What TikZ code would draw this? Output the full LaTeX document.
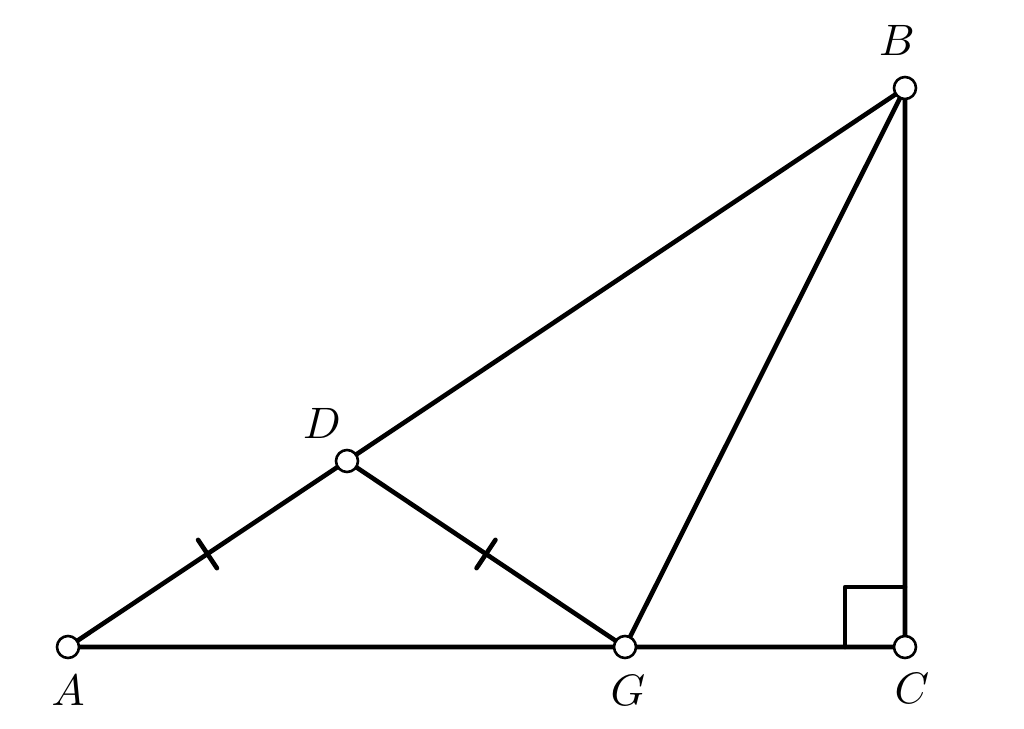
\documentclass[tikz,border=0pt]{standalone}
\usetikzlibrary{calc}
\begin{document}
\begin{tikzpicture}[x=1pt,y=-1pt,
  seg/.style={line width=4.6pt,line cap=round,line join=round},
  pt/.style={circle,draw,fill=white,line width=2.6pt,minimum size=22pt,inner sep=0pt},
  lbl/.style={inner sep=0pt}]
\useasboundingbox (0,0) rectangle (1024,728);
\coordinate (A) at (68,647);
\coordinate (G) at (625,647);
\coordinate (C) at (905,647);
\coordinate (B) at (905,88);
\coordinate (D) at (347,461);
\draw[seg] (A) -- (C) -- (B) -- (A);
\draw[seg] (D) -- (G) -- (B);
\draw[seg] (C) ++(-60,0) coordinate (R1) -- ++(0,-60) coordinate (R2) -- ++(60,0);
% ticks
\coordinate (M1) at ($(A)!0.5!(D)$);
\coordinate (M2) at ($(D)!0.5!(G)$);
\draw[seg] ($(M1)!17pt!90:(D)$) -- ($(M1)!17pt!-90:(D)$);
\draw[seg] ($(M2)!17pt!90:(G)$) -- ($(M2)!17pt!-90:(G)$);
\node[pt] (pA) at (A) {};
\node[pt] (pG) at (G) {};
\node[pt] (pC) at (C) {};
\node[pt] (pB) at (B) {};
\node[pt] (pD) at (D) {};
\node[lbl] (lA) at (68,690) {\scalebox{4.4}{$A$}};
\node[lbl] (lG) at (628,690) {\scalebox{4.4}{$G$}};
\node[lbl] (lC) at (912,688) {\scalebox{4.4}{$C$}};
\node[lbl] (lB) at (897,40) {\scalebox{4.4}{$B$}};
\node[lbl] (lD) at (322,423) {\scalebox{4.4}{$D$}};
\end{tikzpicture}
\end{document}
